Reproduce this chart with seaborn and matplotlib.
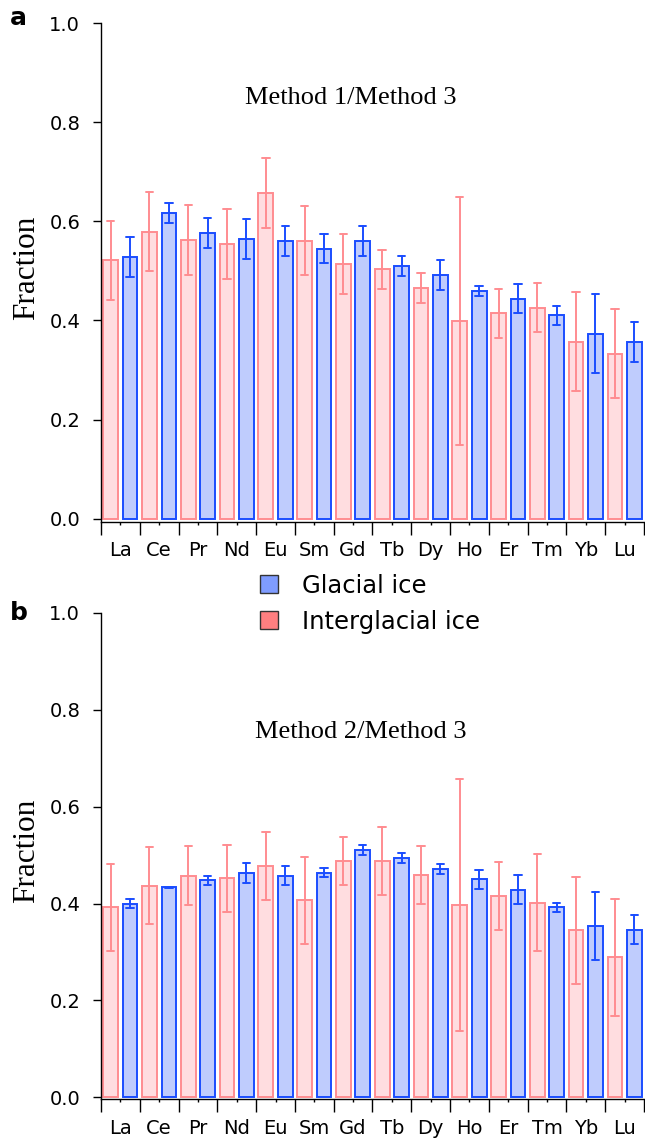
import numpy as np
import pandas as pd
import matplotlib
matplotlib.use("Agg")
import matplotlib.pyplot as plt
from matplotlib.patches import Patch
from matplotlib.ticker import FixedLocator, NullFormatter, FixedFormatter
import seaborn as sns

# ---------------- data ----------------
elements = ["La", "Ce", "Pr", "Nd", "Eu", "Sm", "Gd", "Tb", "Dy", "Ho", "Er", "Tm", "Yb", "Lu"]
types = ["Interglacial ice", "Glacial ice"]

# panel a: Method 1 / Method 3
inter_a = [0.521, 0.579, 0.562, 0.554, 0.657, 0.561, 0.514, 0.503, 0.465, 0.399, 0.414, 0.426, 0.357, 0.333]
inter_a_err = [0.080, 0.080, 0.070, 0.070, 0.070, 0.070, 0.060, 0.040, 0.030, 0.250, 0.050, 0.050, 0.100, 0.090]
glac_a = [0.528, 0.616, 0.576, 0.564, 0.560, 0.545, 0.560, 0.510, 0.492, 0.459, 0.444, 0.410, 0.373, 0.357]
glac_a_err = [0.040, 0.020, 0.030, 0.040, 0.030, 0.030, 0.030, 0.020, 0.030, 0.010, 0.030, 0.020, 0.080, 0.040]

# panel b: Method 2 / Method 3
inter_b = [0.392, 0.437, 0.458, 0.452, 0.477, 0.407, 0.488, 0.488, 0.459, 0.397, 0.416, 0.402, 0.345, 0.289]
inter_b_err = [0.090, 0.080, 0.060, 0.070, 0.070, 0.090, 0.050, 0.070, 0.060, 0.260, 0.070, 0.100, 0.110, 0.120]
glac_b = [0.400, 0.434, 0.448, 0.463, 0.458, 0.464, 0.510, 0.494, 0.471, 0.450, 0.429, 0.392, 0.354, 0.346]
glac_b_err = [0.010, 0.001, 0.010, 0.020, 0.020, 0.010, 0.010, 0.010, 0.010, 0.020, 0.030, 0.010, 0.070, 0.030]

yticks = [0.0, 0.2, 0.4, 0.6, 0.8, 1.0]
ytick_labels = ["0.0", "0.2", "0.4", "0.6", "0.8", "1.0"]

# ---------------- style ----------------
sns.set_theme(style="ticks")
plt.rcParams["font.family"] = ["DejaVu Sans"]
plt.rcParams["text.color"] = "black"
plt.rcParams["axes.labelcolor"] = "black"
plt.rcParams["xtick.color"] = "black"
plt.rcParams["ytick.color"] = "black"

face = {"Interglacial ice": "#ffdde0", "Glacial ice": "#bfccfd"}
edge = {"Interglacial ice": "#ff8c90", "Glacial ice": "#1a4dff"}
legend_face = {"Glacial ice": "#7f9cff", "Interglacial ice": "#ff7f80"}


def long_table(inter, inter_err, glac, glac_err):
    rows = []
    for t, vals, errs in ((types[0], inter, inter_err), (types[1], glac, glac_err)):
        for el, v, e in zip(elements, vals, errs):
            rows.append({"element": el, "type": t, "value": v - e})
            rows.append({"element": el, "type": t, "value": v + e})
    return pd.DataFrame(rows)


def draw_panel(ax, df, title, title_xy, ylow):
    for t in types:
        sub = df[df["type"] == t]
        sns.barplot(
            data=sub, x="element", y="value", hue="type",
            order=elements, hue_order=types, palette=face,
            estimator="mean", errorbar=lambda v: (v.min(), v.max()),
            width=1.0, gap=0.24, dodge=True, saturation=1,
            edgecolor=edge[t], linewidth=1.4,
            capsize=0.38,
            err_kws={"color": edge[t], "linewidth": 1.4},
            legend=False, ax=ax,
        )
    ax.set_xlim(-0.5, len(elements) - 0.5)
    ax.set_ylim(ylow, 1.0)
    ax.set_yticks(yticks)
    ax.set_yticklabels(ytick_labels)
    ax.tick_params(axis="y", which="major", direction="out", length=6, width=1,
                   pad=9, labelsize=14, color="black", labelcolor="black")
    # x axis: long ticks at category boundaries, short labelled ticks at centers
    ax.xaxis.set_major_locator(FixedLocator(np.arange(-0.5, len(elements), 1.0)))
    ax.xaxis.set_major_formatter(NullFormatter())
    ax.xaxis.set_minor_locator(FixedLocator(np.arange(len(elements))))
    ax.xaxis.set_minor_formatter(FixedFormatter(elements))
    ax.tick_params(axis="x", which="major", direction="out", length=9, width=1, color="black")
    ax.tick_params(axis="x", which="minor", direction="out", length=2, width=1,
                   pad=12, labelsize=14, color="black", labelcolor="black")
    ax.set_xlabel("")
    ax.set_ylabel("Fraction", family="Liberation Serif", fontsize=22.5, color="black")
    ax.yaxis.set_label_coords(-0.11, 0.51)
    sns.despine(ax=ax)
    for s in ("left", "bottom"):
        ax.spines[s].set_linewidth(1.0)
        ax.spines[s].set_color("black")
    ax.text(title_xy[0], title_xy[1], title, transform=ax.transAxes, color="black",
            ha="center", va="center", family="Liberation Serif", fontsize=19)


fig = plt.figure(figsize=(6.45, 11.4), dpi=100)
ax_a = fig.add_axes([0.1566, 0.5424, 0.8418, 0.4374])
ax_b = fig.add_axes([0.1566, 0.0357, 0.8418, 0.4266])

draw_panel(ax_a, long_table(inter_a, inter_a_err, glac_a, glac_a_err),
           "Method 1/Method 3", (0.46, 0.85), -0.006)
draw_panel(ax_b, long_table(inter_b, inter_b_err, glac_b, glac_b_err),
           "Method 2/Method 3", (0.478, 0.755), -0.004)

fig.text(0.015, 0.984, "a", fontsize=18, fontweight="bold", va="center", ha="left", color="black")
fig.text(0.015, 0.462, "b", fontsize=18, fontweight="bold", va="center", ha="left", color="black")

handles = [Patch(facecolor=legend_face[k], edgecolor="#333333", linewidth=1.0, label=k)
           for k in ["Glacial ice", "Interglacial ice"]]
fig.legend(handles=handles, loc="center", bbox_to_anchor=(0.574, 0.4705),
           frameon=False, fontsize=17.5, handlelength=0.75, handleheight=0.75,
           handletextpad=1.0, labelspacing=0.5, labelcolor="black")

fig.savefig("out.png", dpi=100)
